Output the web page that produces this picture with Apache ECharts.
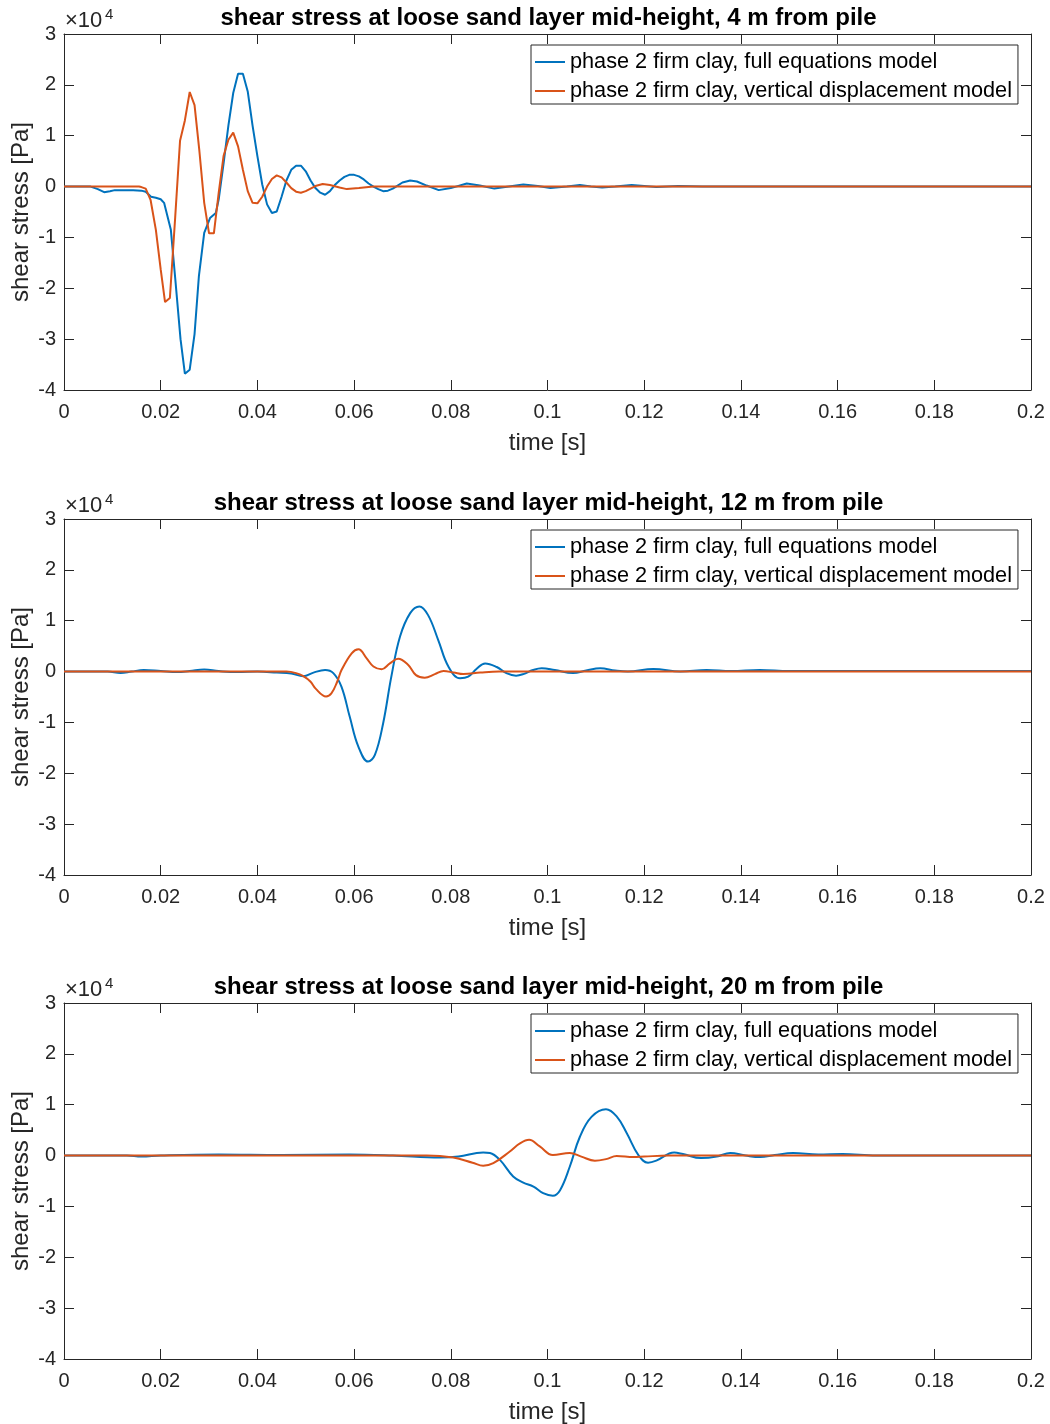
<!DOCTYPE html>
<html>
<head>
<meta charset="utf-8">
<title>shear stress at loose sand layer mid-height</title>
<script src="https://cdn.jsdelivr.net/npm/echarts@6/dist/echarts.min.js"></script>
<style>
  html, body { margin: 0; padding: 0; background: #fff; }
  #chart { width: 1050px; height: 1424px; }
</style>
</head>
<body>
<div id="chart"></div>
<script>
// Shear stress time histories (values in 10^4 Pa) at three distances from the pile.
const seriesNames = ['phase 2 firm clay, full equations model', 'phase 2 firm clay, vertical displacement model'];
const panelTitles = [
  'shear stress at loose sand layer mid-height, 4 m from pile',
  'shear stress at loose sand layer mid-height, 12 m from pile',
  'shear stress at loose sand layer mid-height, 20 m from pile'
];
const xTicks = [0, 0.02, 0.04, 0.06, 0.08, 0.1, 0.12, 0.14, 0.16, 0.18, 0.2];
const yTicks = [-4, -3, -2, -1, 0, 1, 2, 3];

// 4 m from pile
const tFull4 = [0, 0.0055, 0.007, 0.0083, 0.0095, 0.0105, 0.0143, 0.016, 0.0169, 0.018, 0.019, 0.020, 0.0207, 0.0221, 0.023, 0.0241, 0.025, 0.026, 0.027, 0.0279, 0.029, 0.0302, 0.0314, 0.032, 0.033, 0.034, 0.035, 0.036, 0.037, 0.038, 0.039, 0.040, 0.041, 0.042, 0.043, 0.044, 0.045, 0.046, 0.047, 0.048, 0.049, 0.050, 0.051, 0.052, 0.053, 0.054, 0.055, 0.056, 0.057, 0.058, 0.059, 0.060, 0.061, 0.062, 0.063, 0.064, 0.065, 0.066, 0.067, 0.068, 0.069, 0.070, 0.0716, 0.073, 0.075, 0.0775, 0.080, 0.0833, 0.086, 0.089, 0.092, 0.095, 0.098, 0.1006, 0.104, 0.1067, 0.109, 0.1113, 0.114, 0.1174, 0.120, 0.1225, 0.127, 0.132, 0.2];
const vFull4 = [0, 0, -0.05, -0.11, -0.09, -0.07, -0.07, -0.08, -0.1, -0.2, -0.22, -0.25, -0.32, -0.85, -1.8, -3.0, -3.68, -3.6, -2.9, -1.76, -0.91, -0.62, -0.52, -0.25, 0.45, 1.2, 1.84, 2.22, 2.22, 1.87, 1.2, 0.6, 0.04, -0.35, -0.52, -0.49, -0.2, 0.12, 0.33, 0.41, 0.41, 0.3, 0.12, -0.03, -0.12, -0.16, -0.09, 0.03, 0.12, 0.19, 0.23, 0.23, 0.2, 0.14, 0.06, 0.0, -0.05, -0.09, -0.08, -0.04, 0.02, 0.08, 0.12, 0.1, 0.02, -0.07, -0.03, 0.06, 0.02, -0.04, 0.0, 0.04, 0.01, -0.03, 0.0, 0.03, 0.0, -0.02, 0.0, 0.03, 0.01, -0.01, 0.01, 0, 0];
const tVert4 = [0, 0.0155, 0.016, 0.0169, 0.0179, 0.019, 0.020, 0.0209, 0.0219, 0.023, 0.024, 0.025, 0.026, 0.027, 0.028, 0.029, 0.030, 0.031, 0.032, 0.033, 0.034, 0.035, 0.036, 0.037, 0.038, 0.039, 0.040, 0.041, 0.042, 0.043, 0.044, 0.045, 0.046, 0.047, 0.048, 0.049, 0.050, 0.051, 0.052, 0.0535, 0.055, 0.057, 0.0585, 0.061, 0.064, 0.2];
const vVert4 = [0, 0, -0.01, -0.04, -0.26, -0.85, -1.63, -2.27, -2.19, -0.6, 0.9, 1.3, 1.86, 1.6, 0.7, -0.32, -0.92, -0.92, -0.12, 0.6, 0.92, 1.06, 0.79, 0.33, -0.09, -0.32, -0.33, -0.2, 0.0, 0.15, 0.22, 0.18, 0.08, -0.03, -0.1, -0.12, -0.09, -0.04, 0.01, 0.05, 0.03, -0.02, -0.05, -0.03, 0, 0];

// 12 m from pile
const tFull12 = [0, 0.009, 0.0117, 0.014, 0.0165, 0.020, 0.0234, 0.026, 0.029, 0.032, 0.0358, 0.040, 0.044, 0.047, 0.0495, 0.0516, 0.054, 0.0557, 0.0574, 0.0591, 0.0609, 0.0629, 0.0643, 0.066, 0.0677, 0.0695, 0.0716, 0.0735, 0.0753, 0.0774, 0.0795, 0.0819, 0.0836, 0.0853, 0.0871, 0.0895, 0.0915, 0.0935, 0.095, 0.097, 0.0988, 0.1015, 0.1053, 0.108, 0.1109, 0.114, 0.1166, 0.1219, 0.1275, 0.1329, 0.138, 0.1439, 0.150, 0.2];
const vFull12 = [0, 0, -0.03, 0, 0.03, 0.01, -0.01, 0.01, 0.04, 0.01, -0.01, 0.0, -0.02, -0.04, -0.09, -0.02, 0.03, -0.03, -0.3, -0.89, -1.48, -1.77, -1.64, -1.02, -0.1, 0.69, 1.15, 1.28, 1.11, 0.62, 0.1, -0.13, -0.1, 0.05, 0.16, 0.09, -0.03, -0.08, -0.05, 0.03, 0.065, 0.03, -0.03, 0.02, 0.065, 0.02, 0.0, 0.05, 0.0, 0.03, 0.01, 0.03, 0.01, 0.01];
const tVert12 = [0, 0.046, 0.048, 0.0495, 0.051, 0.052, 0.0542, 0.0553, 0.0565, 0.0574, 0.0595, 0.0609, 0.0626, 0.064, 0.0657, 0.0674, 0.0691, 0.0712, 0.0728, 0.0746, 0.0767, 0.0785, 0.0806, 0.0826, 0.0861, 0.090, 0.2];
const vVert12 = [0, 0, -0.03, -0.09, -0.2, -0.33, -0.49, -0.43, -0.2, 0.03, 0.36, 0.44, 0.26, 0.1, 0.045, 0.16, 0.25, 0.13, -0.07, -0.12, -0.05, 0.01, -0.02, -0.05, -0.02, 0, 0];

// 20 m from pile
const tFull20 = [0, 0.013, 0.016, 0.020, 0.032, 0.045, 0.059, 0.068, 0.0778, 0.0816, 0.0867, 0.0881, 0.0902, 0.0929, 0.095, 0.0971, 0.0991, 0.1011, 0.1026, 0.1046, 0.1067, 0.1091, 0.1121, 0.1143, 0.1164, 0.1188, 0.1208, 0.1225, 0.1262, 0.128, 0.1318, 0.135, 0.1378, 0.141, 0.144, 0.147, 0.1508, 0.156, 0.161, 0.168, 0.2];
const vFull20 = [0, 0, -0.02, 0, 0.02, 0.01, 0.02, 0, -0.04, -0.02, 0.06, 0.05, -0.09, -0.41, -0.53, -0.61, -0.74, -0.79, -0.68, -0.22, 0.37, 0.76, 0.91, 0.77, 0.44, 0.01, -0.14, -0.1, 0.06, 0.03, -0.05, -0.02, 0.05, 0.0, -0.03, 0.01, 0.05, 0.02, 0.03, 0, 0];
const tVert20 = [0, 0.075, 0.0805, 0.0845, 0.0867, 0.0888, 0.0922, 0.0943, 0.0962, 0.0984, 0.1011, 0.1046, 0.107, 0.1098, 0.1121, 0.1143, 0.1178, 0.120, 0.125, 0.2];
const vVert20 = [0, 0, -0.04, -0.14, -0.2, -0.15, 0.08, 0.24, 0.31, 0.18, 0.01, 0.05, -0.02, -0.1, -0.07, -0.01, -0.03, -0.02, 0, 0];

const panels = [
  { full: [tFull4, vFull4], vert: [tVert4, vVert4], smooth: false },
  { full: [tFull12, vFull12], vert: [tVert12, vVert12], smooth: 0.4 },
  { full: [tFull20, vFull20], vert: [tVert20, vVert20], smooth: 0.4 }
];

const SCALE = 1e4;
const colors = ['#0072BD', '#D95319'];
const axisColor = '#262626';
const font = '"Liberation Sans", Arial, Helvetica, sans-serif';
const gridTops = [34, 519, 1003];
const plotLeft = 64, plotWidth = 967, plotHeight = 356;

const pairs = (t, v) => t.map((x, i) => [x, v[i] * SCALE]);
const fmtX = v => String(+v.toFixed(2));

const grid = [], xAxis = [], yAxis = [], series = [], legend = [], title = [], graphic = [];

panels.forEach((p, k) => {
  grid.push({
    left: plotLeft, top: gridTops[k], width: plotWidth, height: plotHeight,
    containLabel: false, outerBoundsMode: 'none'
  });

  const xBase = {
    gridIndex: k, type: 'value', min: xTicks[0], max: xTicks[xTicks.length - 1],
    interval: xTicks[1] - xTicks[0],
    axisLine: { show: true, onZero: false, lineStyle: { color: axisColor, width: 1 } },
    axisTick: { show: true, inside: true, length: 10, lineStyle: { color: axisColor } },
    splitLine: { show: false }
  };
  xAxis.push(Object.assign({}, xBase, {
    position: 'bottom',
    name: 'time [s]', nameLocation: 'middle', nameGap: 41, nameMoveOverlap: false,
    nameTextStyle: { color: axisColor, fontSize: 24, fontFamily: font },
    axisLabel: { show: true, margin: 12, color: axisColor, fontSize: 20, fontFamily: font, formatter: fmtX }
  }));
  xAxis.push(Object.assign({}, xBase, { position: 'top', axisLabel: { show: false } }));

  const yBase = {
    gridIndex: k, type: 'value', min: yTicks[0] * SCALE, max: yTicks[yTicks.length - 1] * SCALE,
    interval: SCALE,
    axisLine: { show: true, onZero: false, lineStyle: { color: axisColor, width: 1 } },
    axisTick: { show: true, inside: true, length: 10, lineStyle: { color: axisColor } },
    splitLine: { show: false }
  };
  yAxis.push(Object.assign({}, yBase, {
    position: 'left',
    name: 'shear stress [Pa]', nameLocation: 'middle', nameGap: 31, nameMoveOverlap: false,
    nameTextStyle: { color: axisColor, fontSize: 24, fontFamily: font },
    axisLabel: { show: true, margin: 8, color: axisColor, fontSize: 20, fontFamily: font,
      formatter: v => String(Math.round(v / SCALE)) }
  }));
  yAxis.push(Object.assign({}, yBase, { position: 'right', axisLabel: { show: false } }));

  [p.full, p.vert].forEach((d, j) => {
    series.push({
      name: seriesNames[j], type: 'line', xAxisIndex: 2 * k, yAxisIndex: 2 * k,
      data: pairs(d[0], d[1]), showSymbol: false, symbol: 'none',
      smooth: p.smooth,
      lineStyle: { color: colors[j], width: 2 }, itemStyle: { color: colors[j] },
      animation: false, z: 2 + j
    });
  });

  legend.push({
    data: seriesNames, orient: 'vertical', left: 531, top: gridTops[k] + 11,
    icon: 'rect', itemWidth: 30, itemHeight: 2, itemGap: 7,
    padding: [6, 6, 2, 4], borderColor: axisColor, borderWidth: 1, backgroundColor: '#fff',
    textStyle: { color: '#000', fontSize: 21.7, fontFamily: font, lineHeight: 20 },
    selectedMode: false
  });

  title.push({
    text: panelTitles[k], left: plotLeft + plotWidth / 2 - 4, textAlign: 'center', top: gridTops[k] - 33,
    textStyle: { color: '#000', fontSize: 24, fontWeight: 'bold', fontFamily: font }
  });

  graphic.push({
    type: 'text', left: 65, top: gridTops[k] - 24,
    style: { text: '\u00d710', fontSize: 22, fontFamily: font, fill: axisColor }
  });
  graphic.push({
    type: 'text', left: 105, top: gridTops[k] - 27,
    style: { text: '4', fontSize: 15, fontFamily: font, fill: axisColor }
  });
});

const chart = echarts.init(document.getElementById('chart'), null, { renderer: 'canvas' });
chart.setOption({
  backgroundColor: '#fff', animation: false,
  title, grid, xAxis, yAxis, series, legend, graphic
});
</script>
</body>
</html>
